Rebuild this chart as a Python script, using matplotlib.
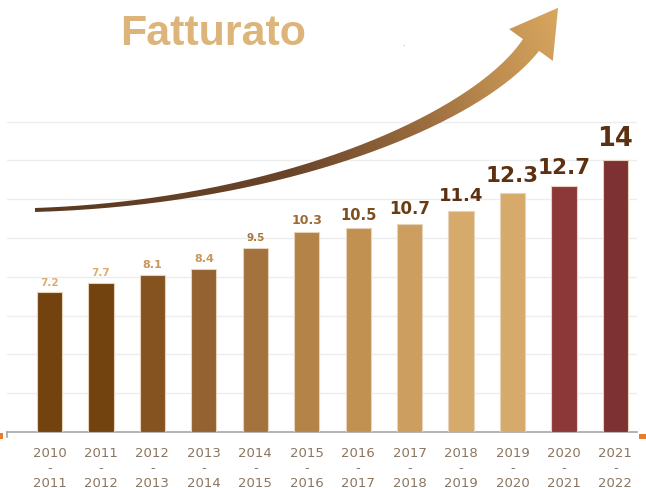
import numpy as np
import matplotlib
matplotlib.use("Agg")
import matplotlib.pyplot as plt
from matplotlib.path import Path
from matplotlib.patches import PathPatch, Rectangle
from matplotlib.colors import LinearSegmentedColormap

# data
periods = ["2010\n-\n2011", "2011\n-\n2012", "2012\n-\n2013", "2013\n-\n2014",
           "2014\n-\n2015", "2015\n-\n2016", "2016\n-\n2017", "2017\n-\n2018",
           "2018\n-\n2019", "2019\n-\n2020", "2020\n-\n2021", "2021\n-\n2022"]
fatturato = [7.2, 7.7, 8.1, 8.4, 9.5, 10.3, 10.5, 10.7, 11.4, 12.3, 12.7, 14]

bar_colors = ["#73430F", "#73430F", "#84531F", "#936230", "#A3723D", "#B38348",
              "#C19152", "#CC9E5F", "#D6AA6B", "#D6AA6B", "#8C3839", "#7E3132"]
label_colors = ["#D9AE72", "#D9AE72", "#C8975A", "#C8975A", "#A8783F", "#9C6A35",
                "#7F4E1E", "#6A3C12", "#5C3010", "#5C3010", "#5C3010", "#5C3010"]
label_sizes = [7.5, 7.5, 8, 8, 7.5, 9, 10.5, 12, 13, 15.5, 15.5, 18.5]

W, H = 646, 489
fig = plt.figure(figsize=(W / 100, H / 100), dpi=100)

ax = fig.add_axes([7 / W, 1 - 433 / H, (637 - 7) / W, 433 / H])
x = np.arange(len(fatturato))
ax.bar(x, fatturato, width=0.49, color=bar_colors, edgecolor="#E6D3BC",
       linewidth=0.8, zorder=3)
for xi, v, c, s in zip(x, fatturato, label_colors, label_sizes):
    ax.annotate(f"{v:g}", (xi, v), xytext=(0, 4 + (s - 8) * 0.25),
                textcoords="offset points",
                ha="center", va="bottom", fontsize=s, color=c,
                fontweight="bold", zorder=4)

ax.set_xlim(-0.826, 11.42)
ax.set_ylim(0, 433 / 19.4)
for g in range(2, 17, 2):
    ax.axhline(g, color="#EDEDED", lw=1, zorder=1)
ax.set_yticks([])
ax.set_xticks(x)
ax.set_xticklabels(periods, fontsize=9.5, color="#8B7560", linespacing=1.2)
ax.tick_params(axis="x", length=0, pad=10)
for side in ["top", "right", "left"]:
    ax.spines[side].set_visible(False)
ax.spines["bottom"].set_color("#A6A6A6")
ax.spines["bottom"].set_linewidth(1.2)
ax.patch.set_alpha(0)

# overlay in pixel coords for the arrow and decorations
ov = fig.add_axes([0, 0, 1, 1])
ov.set_xlim(0, W)
ov.set_ylim(H, 0)
ov.axis("off")
ov.patch.set_alpha(0)

# curved arrow (cubic bezier centreline)
P0 = np.array([35.0, 211.0])
P1 = np.array([285.0, 203.0])
P3 = np.array([531.0, 46.0])
d_end = np.array([0.59, -0.81])
P2 = P3 - 90 * d_end
t = np.linspace(0, 1, 200)[:, None]
curve = ((1 - t) ** 3) * P0 + 3 * ((1 - t) ** 2) * t * P1 + 3 * (1 - t) * t ** 2 * P2 + t ** 3 * P3
deriv = 3 * ((1 - t) ** 2) * (P1 - P0) + 6 * (1 - t) * t * (P2 - P1) + 3 * t ** 2 * (P3 - P2)
tang = deriv / np.linalg.norm(deriv, axis=1, keepdims=True)
normal = np.column_stack([tang[:, 1], -tang[:, 0]])
half = (4 + 16 * t[:, 0] ** 1.4) / 2
upper = curve + normal * half[:, None]
lower = curve - normal * half[:, None]
tn = tang[-1]
nn = normal[-1]
tip = P3 + 46 * tn
barb1 = P3 + 27 * nn
barb2 = P3 - 27 * nn
outline = np.vstack([upper, barb1, tip, barb2, lower[::-1], upper[:1]])
patch = PathPatch(Path(outline), facecolor="none", edgecolor="none")
ov.add_patch(patch)

cmap = LinearSegmentedColormap.from_list(
    "arr", [(0, "#5B3A22"), (0.45, "#6A4429"), (0.7, "#9A6C3E"),
            (0.85, "#BE8D50"), (1, "#D8A65E")])
gx, gy = np.meshgrid(np.linspace(0, W, 400), np.linspace(0, H, 300))
start = P0
dv = tip - start
proj = ((gx - start[0]) * dv[0] + (gy - start[1]) * dv[1]) / (dv @ dv)
proj = np.clip(proj, 0, 1)
im = ov.imshow(proj, cmap=cmap, extent=[0, W, H, 0], origin="upper",
               interpolation="bilinear", zorder=5, vmin=0, vmax=1)
im.set_clip_path(patch)
ov.set_xlim(0, W)
ov.set_ylim(H, 0)

# small decorations
ov.add_patch(Rectangle((0, 434), 3, 6, color="#E87C2A", lw=0))
ov.add_patch(Rectangle((639, 435), 7, 5, color="#E87C2A", lw=0))
ov.plot([7, 7], [433, 438], color="#A6A6A6", lw=1.2)
ov.text(403, 46, ".", fontsize=6, color="#888888", ha="center", va="baseline")

fig.text(120 / W, 1 - 45 / H, "Fatturato", fontsize=31, fontweight="bold",
         color="#DDB57B", family="Liberation Sans", va="baseline", ha="left")

fig.savefig("out.png", dpi=100)
